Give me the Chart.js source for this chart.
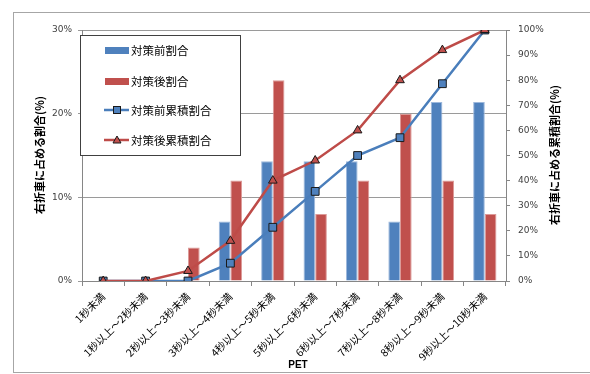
<!DOCTYPE html>
<html>
  <head>
    <meta charset="utf-8">
    <title>PET chart</title>
    <script src="https://cdn.jsdelivr.net/npm/chart.js"></script>
    <style>
      body { margin: 0; background: #fff; }
      .wrap { position: relative; width: 590px; height: 374px; overflow: hidden; }
      .frame { position: absolute; left: 13px; top: 12px; width: 600px; height: 359px; border: 1px solid #a6a6a6; }
      canvas { position: absolute; left: 0; top: 0; }
    </style>
  </head>
  <body>
    <div class="wrap">
      <div class="frame"></div>
      <canvas id="petChart" width="590" height="374"></canvas>
    </div>
    <script>
      // カテゴリ
      var categories = ['1秒未満', '1秒以上～2秒未満', '2秒以上～3秒未満', '3秒以上～4秒未満', '4秒以上～5秒未満',
        '5秒以上～6秒未満', '6秒以上～7秒未満', '7秒以上～8秒未満', '8秒以上～9秒未満', '9秒以上～10秒未満'];
      // 割合 (%)
      var beforeShare = [0, 0, 0, 7.1, 14.3, 14.3, 14.3, 7.1, 21.4, 21.4];
      var afterShare = [0, 0, 4, 12, 24, 8, 12, 20, 12, 8];
      // 累積割合 (%)
      var beforeCum = [0, 0, 0, 7.1, 21.4, 35.7, 50, 57.1, 78.6, 100];
      var afterCum = [0, 0, 4, 16, 40, 48, 60, 80, 92, 100];

      var BLUE = '#4F81BD', RED = '#C0504D';
      var tickFont = { family: 'DejaVu Sans', size: 9 };
      var jpFont = '"Noto Sans CJK JP"';

      // 軸タイトルと凡例を描く
      var decor = {
        id: 'decor',
        afterDraw: function(chart) {
          var ctx = chart.ctx;
          ctx.save();
          ctx.fillStyle = '#000';
          ctx.textAlign = 'center';
          ctx.textBaseline = 'middle';
          ctx.font = 'bold 11px ' + jpFont;
          ctx.save();
          ctx.translate(40, 155);
          ctx.rotate(-Math.PI / 2);
          ctx.fillText('右折車に占める割合(%)', 0, 0);
          ctx.restore();
          ctx.save();
          ctx.translate(555, 155);
          ctx.rotate(-Math.PI / 2);
          ctx.fillText('右折車に占める累積割合(%)', 0, 0);
          ctx.restore();
          ctx.font = 'bold 10px "Liberation Sans"';
          ctx.fillText('PET', 298, 365);

          // 凡例
          ctx.fillStyle = '#fff';
          ctx.fillRect(80, 35, 160, 120);
          ctx.strokeStyle = '#404040';
          ctx.lineWidth = 1;
          ctx.strokeRect(80.5, 35.5, 160, 120);
          var labels = ['対策前割合', '対策後割合', '対策前累積割合', '対策後累積割合'];
          var ys = [50, 81, 110, 140];
          ctx.textAlign = 'left';
          ctx.font = '11.5px ' + jpFont;
          for (var i = 0; i < 4; i++) {
            var y = ys[i];
            if (i < 2) {
              ctx.fillStyle = i === 0 ? BLUE : RED;
              ctx.fillRect(105, y - 3, 24, 7);
            } else {
              ctx.strokeStyle = i === 2 ? '#4A7EBB' : '#BE4B48';
              ctx.lineWidth = 2.5;
              ctx.beginPath();
              ctx.moveTo(104, y);
              ctx.lineTo(129, y);
              ctx.stroke();
              ctx.lineWidth = 1;
              ctx.strokeStyle = '#1a1a1a';
              if (i === 2) {
                ctx.fillStyle = BLUE;
                ctx.fillRect(113.5, y - 3.5, 7, 7);
                ctx.strokeRect(113.5, y - 3.5, 7, 7);
              } else {
                ctx.fillStyle = RED;
                ctx.beginPath();
                ctx.moveTo(117, y - 4);
                ctx.lineTo(121, y + 3);
                ctx.lineTo(113, y + 3);
                ctx.closePath();
                ctx.fill();
                ctx.stroke();
              }
            }
            ctx.fillStyle = '#000';
            ctx.fillText(labels[i], 131, y + 0.5);
          }
          ctx.restore();
        }
      };

      new Chart(document.getElementById('petChart').getContext('2d'), {
        type: 'bar',
        data: {
          labels: categories,
          datasets: [{
            type: 'line',
            label: '対策後累積割合',
            data: afterCum,
            yAxisID: 'y2',
            borderColor: '#BE4B48',
            borderWidth: 2.5,
            pointStyle: 'triangle',
            pointRadius: 5,
            pointBackgroundColor: RED,
            pointBorderColor: '#1a1a1a',
            pointBorderWidth: 1,
            tension: 0,
            order: 0
          }, {
            type: 'line',
            label: '対策前累積割合',
            data: beforeCum,
            yAxisID: 'y2',
            borderColor: '#4A7EBB',
            borderWidth: 2.5,
            pointStyle: 'rect',
            pointRadius: 5.5,
            pointBackgroundColor: BLUE,
            pointBorderColor: '#1a1a1a',
            pointBorderWidth: 1,
            tension: 0,
            order: 1
          }, {
            label: '対策前割合',
            data: beforeShare,
            yAxisID: 'y',
            backgroundColor: BLUE,
            borderColor: '#9db8dc',
            borderWidth: 1,
            categoryPercentage: 0.55,
            barPercentage: 1,
            order: 2
          }, {
            label: '対策後割合',
            data: afterShare,
            yAxisID: 'y',
            backgroundColor: RED,
            borderColor: '#dc9a98',
            borderWidth: 1,
            categoryPercentage: 0.55,
            barPercentage: 1,
            order: 2
          }]
        },
        options: {
          responsive: false,
          animation: false,
          layout: { padding: { top: 30, left: 0, right: 0, bottom: 0 } },
          plugins: { legend: { display: false }, tooltip: { enabled: false } },
          scales: {
            x: {
              grid: { offset: true, drawOnChartArea: false, tickLength: 5, color: '#868686' },
              border: { color: '#868686' },
              ticks: { font: { family: jpFont, size: 10.5 }, color: '#000', minRotation: 45, maxRotation: 45, padding: 4, autoSkip: false },
              afterFit: function(s) { s.height = 93; }
            },
            y: {
              position: 'left',
              min: 0, max: 30,
              ticks: { stepSize: 10, callback: function(v) { return v + '%'; }, font: tickFont, color: '#404040', padding: 6 },
              grid: { color: '#9a9a9a', tickLength: 4 },
              border: { color: '#868686' },
              afterFit: function(s) { s.width = 82; }
            },
            y2: {
              position: 'right',
              min: 0, max: 100,
              ticks: { stepSize: 10, callback: function(v) { return v + '%'; }, font: tickFont, color: '#404040', padding: 8 },
              grid: { drawOnChartArea: false, tickLength: 4, color: '#868686' },
              border: { color: '#868686' },
              afterFit: function(s) { s.width = 84; }
            }
          }
        },
        plugins: [decor]
      });
    </script>
  </body>
</html>
